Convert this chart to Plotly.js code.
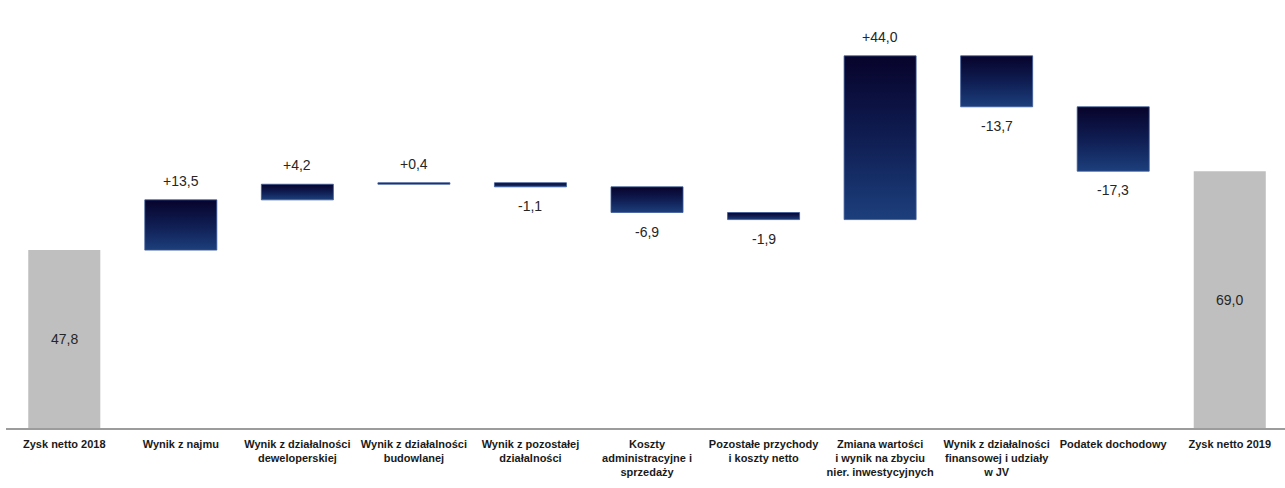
<!DOCTYPE html>
<html>
<head>
<meta charset="utf-8">
<script src="https://cdn.plot.ly/plotly-3.0.1.min.js"></script>
<style>html,body{margin:0;padding:0;background:#fff;}#chart{width:1285px;height:488px;}</style>
</head>
<body>
<div id="chart"></div>
<script>
var categories = [
  "Zysk netto 2018",
  "Wynik z najmu",
  "Wynik z działalności<br>deweloperskiej",
  "Wynik z działalności<br>budowlanej",
  "Wynik z pozostałej<br>działalności",
  "Koszty<br>administracyjne i<br>sprzedaży",
  "Pozostałe przychody<br>i koszty netto",
  "Zmiana wartości<br>i wynik na zbyciu<br>nier. inwestycyjnych",
  "Wynik z działalności<br>finansowej i udziały<br>w JV",
  "Podatek dochodowy",
  "Zysk netto 2019"
];
var measures = ["absolute","relative","relative","relative","relative","relative","relative","relative","relative","relative","total"];
var values = [47.8, 13.5, 4.2, 0.4, -1.1, -6.9, -1.9, 44.0, -13.7, -17.3, 69.0];

function fmt(v, signed){
  var s = Math.abs(v).toFixed(1).replace('.', ',');
  if (v < 0) return '-' + s;
  return (signed ? '+' : '') + s;
}

var labelFont = {family: 'Liberation Sans, Arial, sans-serif', size: 14, color: '#262626'};
var annotations = [];
var running = 0;
values.forEach(function(v, i){
  var m = measures[i];
  if (m === 'relative') {
    var start = running;
    running += v;
    annotations.push({
      x: categories[i], y: v >= 0 ? running : running,
      xref: 'x', yref: 'y', showarrow: false,
      text: fmt(v, true), font: labelFont,
      yanchor: 'middle', yshift: v >= 0 ? 19 : -19
    });
  } else {
    if (m === 'absolute') running = v;
    annotations.push({
      x: categories[i], y: (m === 'total' ? running : v) / 2,
      xref: 'x', yref: 'y', showarrow: false,
      text: fmt(v, false), font: labelFont, yanchor: 'middle'
    });
  }
});

var trace = {
  type: 'waterfall',
  x: categories,
  y: values,
  measure: measures,
  textinfo: 'none',
  width: 0.618,
  connector: {visible: false},
  increasing: {marker: {color: '#123070', line: {color: '#3d5c9a', width: 0.8}}},
  decreasing: {marker: {color: '#123070', line: {color: '#3d5c9a', width: 0.8}}},
  totals: {marker: {color: '#bfbfbf', line: {color: '#bfbfbf', width: 0}}},
  hoverinfo: 'none'
};

var layout = {
  width: 1285, height: 488,
  margin: {l: 6, r: 0, t: 0, b: 60},
  paper_bgcolor: '#ffffff', plot_bgcolor: '#ffffff',
  showlegend: false,
  font: {family: 'Liberation Sans, Arial, sans-serif', color: '#1a1a1a'},
  annotations: annotations,
  xaxis: {
    type: 'category',
    range: [-0.5, 10.474],
    showline: true, linecolor: '#9c9c9c', linewidth: 1.5,
    showgrid: false, zeroline: false, ticks: '',
    tickangle: 0,
    ticklabelstandoff: 5,
    tickfont: {family: 'Liberation Sans, Arial, sans-serif', size: 11, color: '#1a1a1a', weight: 'bold'}
  },
  yaxis: {
    range: [0, 115],
    visible: false, showgrid: false, zeroline: false, fixedrange: true
  }
};

Plotly.newPlot('chart', [trace], layout, {staticPlot: true, displayModeBar: false}).then(function(gd){
  var svg = gd.querySelector('svg.main-svg');
  var ns = 'http://www.w3.org/2000/svg';
  var defs = svg.querySelector('defs') || svg.insertBefore(document.createElementNS(ns, 'defs'), svg.firstChild);
  var lg = document.createElementNS(ns, 'linearGradient');
  lg.setAttribute('id', 'navyGrad');
  lg.setAttribute('x1', '0'); lg.setAttribute('y1', '0');
  lg.setAttribute('x2', '0'); lg.setAttribute('y2', '1');
  [['0', '#07032b'], ['0.5', '#0f1d52'], ['1', '#1c3f7c']].forEach(function(s){
    var st = document.createElementNS(ns, 'stop');
    st.setAttribute('offset', s[0]);
    st.setAttribute('stop-color', s[1]);
    lg.appendChild(st);
  });
  defs.appendChild(lg);
  gd.querySelectorAll('.point path').forEach(function(p){
    var f = p.style.fill || '';
    if (f.indexOf('18, 48, 112') >= 0) { p.style.fill = 'url(#navyGrad)'; }
  });
});
</script>
</body>
</html>
